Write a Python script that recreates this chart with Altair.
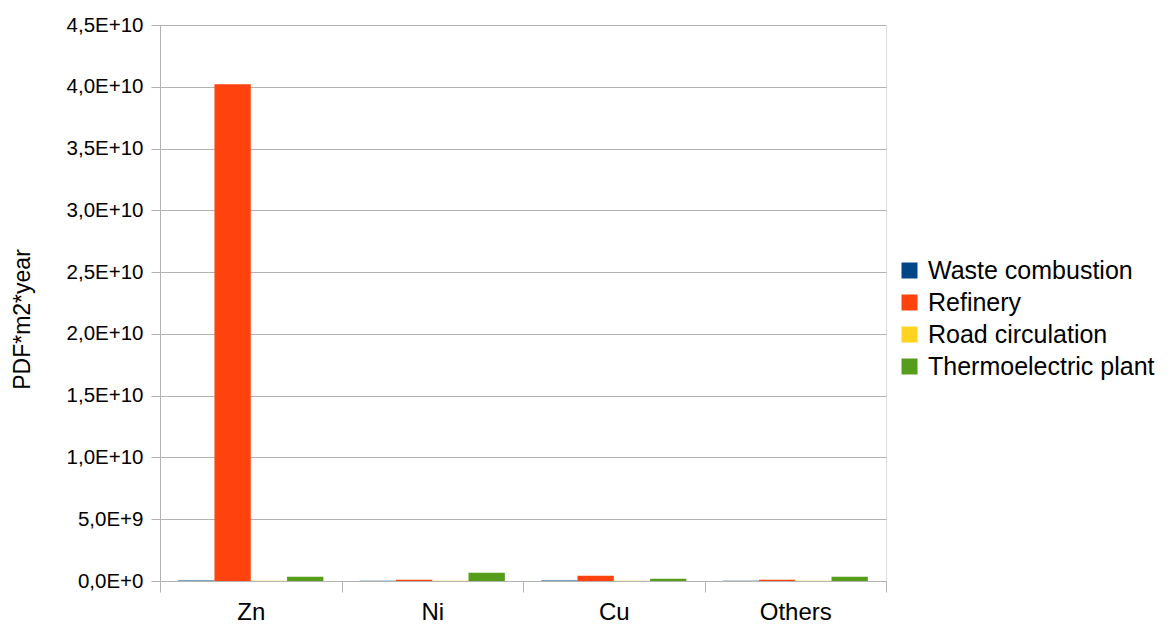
import altair as alt
import pandas as pd

metals = ["Zn", "Ni", "Cu", "Others"]
sources = ["Waste combustion", "Refinery", "Road circulation", "Thermoelectric plant"]
colors = ["#004586", "#ff420e", "#ffd320", "#579d1c"]

waste = [4e7, 3e7, 4e7, 3e7]
refinery = [4.02e10, 1.0e8, 4.3e8, 1.0e8]
road = [2e7, 1.5e7, 2e7, 1.5e7]
thermo = [3.5e8, 6.7e8, 1.9e8, 3.5e8]

series = [waste, refinery, road, thermo]
rows = []
for s, vals in zip(sources, series):
    for m, v in zip(metals, vals):
        rows.append({"metal": m, "source": s, "value": v})
df = pd.DataFrame(rows)

y_ticks = [i * 5e9 for i in range(10)]
label_expr = (
    "datum.value == 0 ? '0,0E+0' : "
    "replace(format(datum.value / pow(10, floor(log(datum.value)/LN10 + 1e-9)), '.1f'), '.', ',')"
    " + 'E+' + floor(log(datum.value)/LN10 + 1e-9)"
)

FONT = "Liberation Sans"
GRID = "#b3b3b3"

chart = alt.Chart(df).mark_bar().encode(
    x=alt.X("metal:N", sort=metals, title=None,
            scale=alt.Scale(paddingInner=0, paddingOuter=0),
            axis=alt.Axis(labelAngle=0, labelFontSize=24, labelFont=FONT, labelColor="#000000",
                          tickBand="extent", tickSize=11, tickColor=GRID, domainColor=GRID,
                          labelPadding=8, grid=False)),
    xOffset=alt.XOffset("source:N", sort=sources,
                        scale=alt.Scale(paddingInner=0, paddingOuter=0.5)),
    y=alt.Y("value:Q", title="PDF*m2*year",
            scale=alt.Scale(domain=[0, 4.5e10], nice=False),
            axis=alt.Axis(values=y_ticks, labelExpr=label_expr, labelFontSize=20.5, labelFont=FONT,
                          labelColor="#000000", tickSize=9, tickColor=GRID, domainColor=GRID,
                          gridColor=GRID, labelPadding=8,
                          titleFont=FONT, titleFontSize=23, titleFontWeight="normal", titleColor="#000000",
                          titleX=-138, titleY=294, titleAngle=270, titleAlign="center",
                          titleBaseline="middle")),
    color=alt.Color("source:N", sort=sources,
                    scale=alt.Scale(domain=sources, range=colors),
                    legend=alt.Legend(title=None, orient="none", legendX=737, legendY=233,
                                      symbolType="square", symbolSize=256, symbolStrokeWidth=0,
                                      labelFontSize=25, labelFont=FONT, labelColor="#000000",
                                      rowPadding=6, labelOffset=6, labelLimit=400)),
).properties(
    width=726, height=556,
    padding={"left": 3, "top": 7, "right": 0, "bottom": 0},
).configure_view(stroke=GRID).configure(background="white")

chart.save("out.html", embed_options={"renderer": "svg", "actions": False})
